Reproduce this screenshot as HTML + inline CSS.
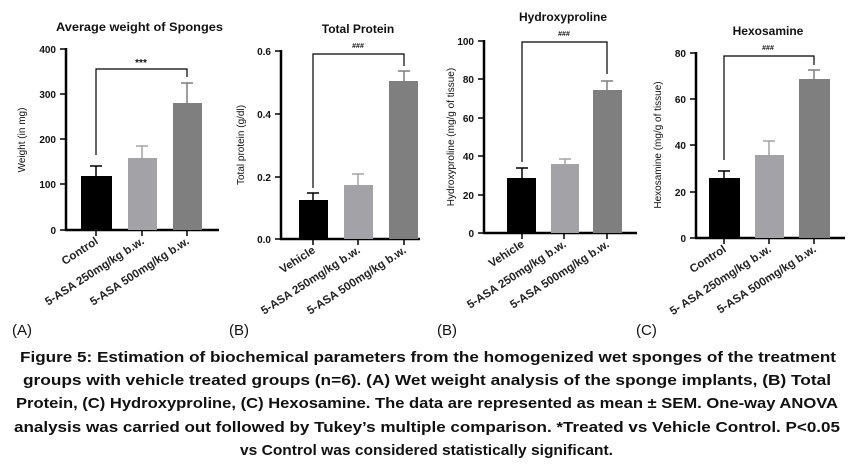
<!DOCTYPE html>
<html><head><meta charset="utf-8"><style>
body{margin:0;background:#fff}
svg{display:block}
.t{font-family:"Liberation Sans",sans-serif;font-weight:bold;fill:#111}
.tk{font-family:"Liberation Sans",sans-serif;font-weight:bold;font-size:10px;fill:#111}
.yl{font-family:"Liberation Sans",sans-serif;font-size:10px;fill:#111}
.xl{font-family:"Liberation Sans",sans-serif;font-weight:bold;font-size:11.5px;fill:#222}
.cap{font-family:"Liberation Sans",sans-serif;font-weight:bold;font-size:15px;fill:#111}
.lab{font-family:"Liberation Sans",sans-serif;font-size:15px;fill:#111}
</style></head><body>
<svg width="852" height="474" viewBox="0 0 852 474" xmlns="http://www.w3.org/2000/svg">
<g stroke="#000" fill="none">
<g stroke-width="2.5"><path d="M66,48V231M65,230H219"/></g>
<g stroke-width="1.5"><path d="M60,49H66M60,94H66M60,139H66M60,184H66M60,230H66M96,230V236M142,230V236M187,230V236"/></g>
<rect x="81" y="176" width="31" height="54" fill="#000" stroke="none"/>
<rect x="128" y="158" width="29" height="72" fill="#a3a3a7" stroke="none"/>
<rect x="173" y="103" width="29" height="127" fill="#7f7f7f" stroke="none"/>
<path d="M96,176V166M90,166H102" stroke-width="1.5"/>
<path d="M142,158V146M136,146H148" stroke="#a3a3a7" stroke-width="1.5"/>
<path d="M187,103V83M181,83H193" stroke="#7f7f7f" stroke-width="1.5"/>
<path d="M96,155V69H187V77" stroke-width="1.2"/>
<g stroke-width="2.5"><path d="M281,50V240M280,239H420"/></g>
<g stroke-width="1.5"><path d="M275,51H281M275,114H281M275,177H281M275,239H281M313,239V245M358,239V245M404,239V245"/></g>
<rect x="299" y="200" width="29" height="39" fill="#000" stroke="none"/>
<rect x="344" y="185" width="29" height="54" fill="#a3a3a7" stroke="none"/>
<rect x="389" y="81" width="29" height="158" fill="#7f7f7f" stroke="none"/>
<path d="M313,200V193M307,193H319" stroke-width="1.5"/>
<path d="M358,185V174M352,174H364" stroke="#a3a3a7" stroke-width="1.5"/>
<path d="M404,81V71M398,71H410" stroke="#7f7f7f" stroke-width="1.5"/>
<path d="M313,188V54H404V66" stroke-width="1.2"/>
<g stroke-width="2.5"><path d="M484,40V234M483,233H637"/></g>
<g stroke-width="1.5"><path d="M478,41H484M478,79H484M478,118H484M478,156H484M478,195H484M478,233H484M522,233V239M564,233V239M607,233V239"/></g>
<rect x="507" y="178" width="29" height="55" fill="#000" stroke="none"/>
<rect x="551" y="164" width="28" height="69" fill="#a3a3a7" stroke="none"/>
<rect x="593" y="90" width="29" height="143" fill="#7f7f7f" stroke="none"/>
<path d="M522,178V168M516,168H528" stroke-width="1.5"/>
<path d="M565,164V159M559,159H571" stroke="#a3a3a7" stroke-width="1.5"/>
<path d="M607,90V81M601,81H613" stroke="#7f7f7f" stroke-width="1.5"/>
<path d="M522,162V42H607V74" stroke-width="1.2"/>
<g stroke-width="2.5"><path d="M696,52V239M695,238H845"/></g>
<g stroke-width="1.5"><path d="M690,53H696M690,99H696M690,145H696M690,192H696M690,238H696M724,238V244M769,238V244M814,238V244"/></g>
<rect x="709" y="178" width="31" height="60" fill="#000" stroke="none"/>
<rect x="755" y="155" width="29" height="83" fill="#a3a3a7" stroke="none"/>
<rect x="799" y="79" width="31" height="159" fill="#7f7f7f" stroke="none"/>
<path d="M724,178V171M718,171H730" stroke-width="1.5"/>
<path d="M769,155V141M763,141H775" stroke="#a3a3a7" stroke-width="1.5"/>
<path d="M814,79V70M808,70H820" stroke="#7f7f7f" stroke-width="1.5"/>
<path d="M724,160V56H814V65" stroke-width="1.2"/>
</g>

<text class="t" x="56" y="31" font-size="11.5" textLength="167" lengthAdjust="spacingAndGlyphs">Average weight of Sponges</text>
<text class="t" x="358" y="33" font-size="12" text-anchor="middle">Total Protein</text>
<text class="t" x="563" y="21" font-size="12" text-anchor="middle">Hydroxyproline</text>
<text class="t" x="768" y="35" font-size="12" text-anchor="middle">Hexosamine</text>

<text class="t" x="141" y="66" font-size="10" text-anchor="middle" fill="#333">***</text>
<text class="t" x="358" y="48" font-size="7" text-anchor="middle" fill="#555">###</text>
<text class="t" x="564" y="36" font-size="7" text-anchor="middle" fill="#555">###</text>
<text class="t" x="768" y="50" font-size="7" text-anchor="middle" fill="#555">###</text>

<g class="tk" text-anchor="end">
<text x="56" y="53">400</text><text x="56" y="98">300</text><text x="56" y="143">200</text><text x="56" y="188">100</text><text x="56" y="234">0</text>
<text x="271" y="55">0.6</text><text x="271" y="118">0.4</text><text x="271" y="181">0.2</text><text x="271" y="243">0.0</text>
<text x="474" y="45">100</text><text x="474" y="83">80</text><text x="474" y="122">60</text><text x="474" y="160">40</text><text x="474" y="199">20</text><text x="474" y="237">0</text>
<text x="686" y="57">80</text><text x="686" y="103">60</text><text x="686" y="149">40</text><text x="686" y="196">20</text><text x="686" y="242">0</text>
</g>

<text class="yl" transform="translate(25,140) rotate(-90)" text-anchor="middle">Weight (in mg)</text>
<text class="yl" transform="translate(244,145) rotate(-90)" text-anchor="middle">Total protein (g/dl)</text>
<text class="yl" transform="translate(454,137) rotate(-90)" text-anchor="middle">Hydroxyproline (mg/g of tissue)</text>
<text class="yl" transform="translate(661,145) rotate(-90)" text-anchor="middle">Hexosamine (mg/g of tissue)</text>

<g class="xl" text-anchor="end">
<text transform="translate(99,243) rotate(-33)">Control</text>
<text transform="translate(145,243) rotate(-33)">5-ASA 250mg/kg b.w.</text>
<text transform="translate(190,243) rotate(-33)">5-ASA 500mg/kg b.w.</text>
<text transform="translate(316,252) rotate(-33)">Vehicle</text>
<text transform="translate(361,252) rotate(-33)">5-ASA 250mg/kg b.w.</text>
<text transform="translate(407,252) rotate(-33)">5-ASA 500mg/kg b.w.</text>
<text transform="translate(525,246) rotate(-33)">Vehicle</text>
<text transform="translate(567,246) rotate(-33)">5-ASA 250mg/kg b.w.</text>
<text transform="translate(610,246) rotate(-33)">5-ASA 500mg/kg b.w.</text>
<text transform="translate(727,251) rotate(-33)">Control</text>
<text transform="translate(772,251) rotate(-33)">5- ASA 250mg/kg b.w.</text>
<text transform="translate(817,251) rotate(-33)">5-ASA 500mg/kg b.w.</text>
</g>

<text class="lab" x="12" y="335">(A)</text>
<text class="lab" x="229" y="335">(B)</text>
<text class="lab" x="437" y="335">(B)</text>
<text class="lab" x="636" y="335">(C)</text>

<text class="cap" x="20" y="362" textLength="816" lengthAdjust="spacingAndGlyphs">Figure 5: Estimation of biochemical parameters from the homogenized wet sponges of the treatment</text>
<text class="cap" x="23" y="385" textLength="808" lengthAdjust="spacingAndGlyphs">groups with vehicle treated groups (n=6). (A) Wet weight analysis of the sponge implants, (B) Total</text>
<text class="cap" x="16" y="408" textLength="822" lengthAdjust="spacingAndGlyphs">Protein, (C) Hydroxyproline, (C) Hexosamine. The data are represented as mean ± SEM. One-way ANOVA</text>
<text class="cap" x="14" y="432" textLength="826" lengthAdjust="spacingAndGlyphs">analysis was carried out followed by Tukey’s multiple comparison. *Treated vs Vehicle Control. P&lt;0.05</text>
<text class="cap" x="240" y="455" textLength="373" lengthAdjust="spacingAndGlyphs">vs Control was considered statistically significant.</text>
</svg>
</body></html>
